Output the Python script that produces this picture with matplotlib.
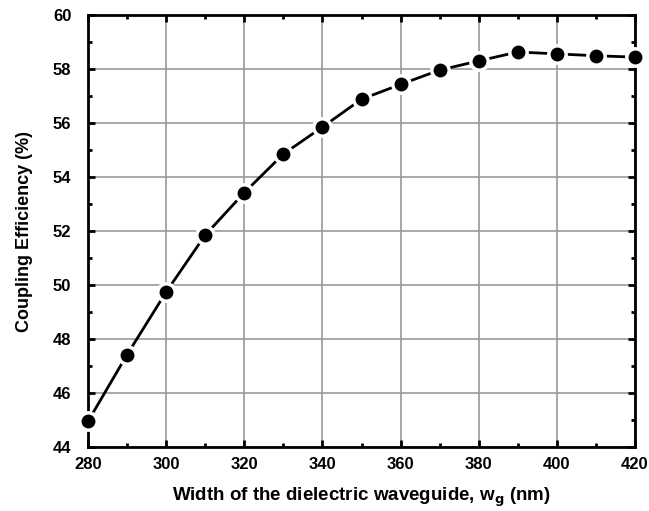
import numpy as np
import matplotlib
matplotlib.use("Agg")
import matplotlib.pyplot as plt
from matplotlib.ticker import MultipleLocator

plt.rcParams['font.family'] = ['Liberation Sans', 'DejaVu Sans']

width_nm = [280, 290, 300, 310, 320, 330, 340, 350, 360, 370, 380, 390, 400, 410, 420]
efficiency = [44.95, 47.42, 49.74, 51.85, 53.42, 54.85, 55.85, 56.88, 57.43, 57.96,
              58.30, 58.63, 58.56, 58.49, 58.44]

fig = plt.figure(figsize=(6.49, 5.11), dpi=100)
ax = fig.add_axes([88 / 649, 1 - 447 / 511, (635 - 88) / 649, (447 - 15) / 511])

ax.plot(width_nm, efficiency, color='black', lw=2.0, marker='o', markersize=12.5,
        markerfacecolor='black', markeredgecolor='white', markeredgewidth=2.5,
        clip_on=False, zorder=3)

ax.set_xlim(280, 420)
ax.set_ylim(44, 60)
ax.xaxis.set_major_locator(MultipleLocator(20))
ax.xaxis.set_minor_locator(MultipleLocator(10))
ax.yaxis.set_major_locator(MultipleLocator(2))
ax.yaxis.set_minor_locator(MultipleLocator(1))

ax.grid(True, which='major', color='#999999', lw=1.2)
ax.set_axisbelow(True)

for s in ax.spines.values():
    s.set_linewidth(2)
ax.tick_params(which='both', direction='in', top=True, right=True, width=2)
ax.tick_params(which='major', length=5, labelsize=12)
ax.tick_params(axis='x', pad=7)
ax.tick_params(axis='y', pad=12)
ax.tick_params(which='minor', length=3)
for lab in ax.get_xticklabels() + ax.get_yticklabels():
    lab.set_fontweight('bold')

ax.set_xlabel('Width of the dielectric waveguide, w$_\\mathbf{g}$ (nm)',
              fontsize=13.5, fontweight='bold', labelpad=10)
ax.set_ylabel('Coupling Efficiency (%)', fontsize=13, fontweight='bold', labelpad=14)

fig.savefig('out.png', dpi=100)
